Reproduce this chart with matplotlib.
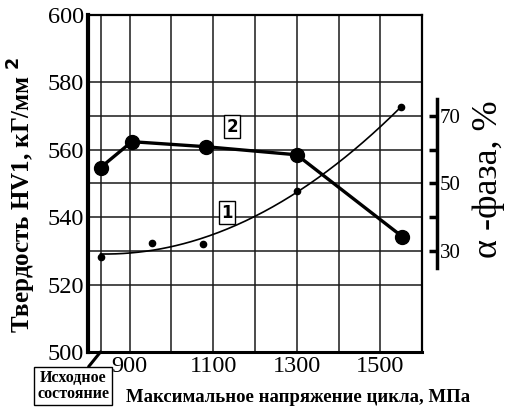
import numpy as np
import matplotlib.pyplot as plt

# x position used for the "initial state" column
x_initial = 830

# curve 2: hardness HV1, kGf/mm2 (left axis)
stress_hv = [x_initial, 905, 1083, 1300, 1553]
hardness = [554.7, 562.4, 560.9, 558.5, 534.2]

# curve 1: alpha-phase, % (right axis)
stress_alpha = [x_initial, 953, 1076, 1300, 1550]
alpha_phase = [28.3, 32.4, 31.9, 47.9, 72.7]

x_ticks = [900, 1100, 1300, 1500]
y_ticks = [500, 520, 540, 560, 580, 600]
alpha_ticks = [30, 40, 50, 60, 70]
alpha_labels = ['30', '', '50', '', '70']

plt.rcParams['font.family'] = ['Liberation Serif', 'DejaVu Serif']

fig = plt.figure(figsize=(5.1, 4.16), dpi=100)
ax = fig.add_axes([0.1725, 0.154, 0.655, 0.81])

ax.set_xlim(800, 1600)
ax.set_ylim(500, 600)
ax.set_xticks(x_ticks)
ax.set_xticks([1000, 1200, 1400], minor=True)
ax.set_yticks(y_ticks)
ax.set_yticks([530, 550, 570], minor=True)
ax.grid(True, which='both', color='#1a1a1a', linewidth=1.1)
ax.axvline(x_initial, color='#1a1a1a', linewidth=1.1)
ax.set_axisbelow(True)
ax.tick_params(which='both', length=0, labelsize=17.5, pad=3)
for s in ax.spines.values():
    s.set_linewidth(1.6)
ax.spines['left'].set_linewidth(3)
ax.spines['bottom'].set_linewidth(2.2)

# trend line for alpha phase, fitted to the points
coef = np.polyfit(stress_alpha, alpha_phase, 2)
xs = np.linspace(stress_alpha[0], stress_alpha[-1], 200)

ax2 = ax.twinx()
ax2.set_ylim(0, 100)
ax2.plot(xs, np.polyval(coef, xs), color='black', linewidth=1.2)
ax2.plot(stress_alpha, alpha_phase, 'o', color='black', markersize=4.5)
ax2.set_yticks(alpha_ticks)
ax2.set_yticklabels(alpha_labels)
ax2.spines['right'].set_position(('outward', 11))
ax2.spines['right'].set_bounds(25, 75)
ax2.spines['right'].set_linewidth(2.5)
for k in ['top', 'left', 'bottom']:
    ax2.spines[k].set_visible(False)
ax2.tick_params(axis='y', direction='in', length=6, width=2.5, labelsize=15, pad=2)

ax2.plot(stress_hv, [h - 500 for h in hardness], '-o', color='black',
         linewidth=2.4, markersize=10)

# curve labels
box = dict(boxstyle='square,pad=0.15', facecolor='white', edgecolor='black', linewidth=1)
ax.text(1145, 566.8, '2', fontsize=12, fontweight='bold', family='DejaVu Sans',
        ha='center', va='center', bbox=box)
ax.text(1133, 541.3, '1', fontsize=12, fontweight='bold', family='DejaVu Sans',
        ha='center', va='center', bbox=box)

# initial state marker
ax.annotate('Исходное\nсостояние', xy=(x_initial, 500), xytext=(73, 416 - 386),
            xycoords='data', textcoords='figure pixels',
            fontsize=11.5, fontweight='bold', ha='center', va='center', linespacing=0.95,
            bbox=dict(boxstyle='square,pad=0.2', facecolor='white', edgecolor='black', linewidth=1),
            arrowprops=dict(arrowstyle='-', color='black', linewidth=2.2, shrinkA=0, shrinkB=0),
            annotation_clip=False)

fig.text(298 / 510, 1 - 398 / 416, 'Максимальное напряжение цикла, МПа',
         fontsize=13.5, fontweight='bold', ha='center', va='center')
fig.text(22 / 510, 1 - 195 / 416, 'Твердость HV1, кГ/мм $^{\\mathbf{2}}$',
         fontsize=18, fontweight='bold', ha='center', va='center', rotation=90)
fig.text(489 / 510, 1 - 179 / 416, 'α -фаза, %',
         fontsize=26, ha='center', va='center', rotation=90)

fig.savefig('out.png', dpi=100)
